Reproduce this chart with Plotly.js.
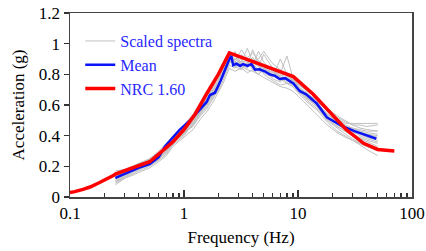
<!DOCTYPE html>
<html><head><meta charset="utf-8">
<script src="https://cdn.plot.ly/plotly-3.0.1.min.js"></script>
<style>html,body{margin:0;padding:0;background:#fff}#chart{width:426px;height:251px}</style>
</head><body><div id="chart"></div>
<script>
// NRC 1.60 target spectrum
const nrcFreq = [0.1,0.11,0.13,0.15,0.18,0.21,0.24,0.25,0.3,0.4,0.5,0.6,0.8,1.0,1.25,1.6,2.0,2.5,5,9.1,13.6,19,26.4,37.6,50,70];
const nrcAcc  = [0.03,0.035,0.05,0.065,0.093,0.115,0.14,0.15,0.17,0.20,0.23,0.28,0.36,0.44,0.54,0.68,0.80,0.94,0.86,0.785,0.67,0.55,0.44,0.35,0.31,0.30];

// Mean of scaled spectra
const meanFreq = [0.25,0.3,0.35,0.4,0.5,0.6,0.68,0.76,0.92,1.13,1.39,1.58,1.69,1.87,2.1,2.31,2.5,2.6,2.7,2.89,3.1,3.3,3.6,3.9,4.2,4.6,5.1,5.65,6.3,6.9,7.7,9.1,10.4,11.8,14.6,17.9,24.7,31.3,48.7];
const meanAcc  = [0.125,0.15,0.176,0.19,0.215,0.26,0.33,0.37,0.44,0.50,0.57,0.62,0.665,0.68,0.76,0.84,0.90,0.92,0.86,0.87,0.855,0.867,0.855,0.867,0.83,0.833,0.82,0.80,0.79,0.77,0.775,0.74,0.69,0.67,0.61,0.52,0.46,0.43,0.38];

// Individual scaled spectra
const specFreq = [0.25,0.3,0.35,0.4,0.5,0.6,0.7,0.8,1.0,1.2,1.4,1.6,1.8,2.0,2.2,2.5,2.8,3.2,3.6,4.0,4.5,5.0,6.0,7.0,8.0,9.0,10,12,15,18,22,26,30,35,40,50];
const spec01 = [0.08,0.12,0.16,0.18,0.21,0.25,0.30,0.36,0.42,0.47,0.55,0.60,0.66,0.72,0.79,0.90,0.88,0.93,0.87,0.91,0.86,0.84,0.80,0.78,0.78,0.75,0.70,0.65,0.58,0.50,0.45,0.41,0.38,0.35,0.33,0.30];
const spec02 = [0.15,0.17,0.19,0.21,0.24,0.28,0.33,0.39,0.45,0.52,0.59,0.64,0.69,0.76,0.84,0.93,0.85,0.83,0.88,0.84,0.80,0.83,0.77,0.75,0.79,0.76,0.72,0.68,0.62,0.56,0.51,0.48,0.48,0.48,0.48,0.48];
const spec03 = [0.12,0.14,0.18,0.20,0.23,0.27,0.29,0.35,0.41,0.50,0.56,0.61,0.70,0.75,0.78,0.88,0.95,0.86,0.84,0.90,0.86,0.80,0.76,0.73,0.74,0.72,0.69,0.63,0.57,0.51,0.46,0.43,0.41,0.39,0.37,0.35];
const spec04 = [0.09,0.12,0.15,0.17,0.20,0.24,0.31,0.38,0.44,0.48,0.58,0.63,0.66,0.70,0.81,0.92,0.89,0.96,0.90,0.86,0.95,0.88,0.82,0.80,0.76,0.73,0.71,0.67,0.61,0.54,0.49,0.46,0.44,0.42,0.41,0.40];
const spec05 = [0.17,0.18,0.20,0.22,0.25,0.29,0.32,0.37,0.43,0.49,0.55,0.63,0.68,0.74,0.82,0.89,0.86,0.85,0.83,0.82,0.80,0.84,0.81,0.79,0.80,0.77,0.73,0.70,0.64,0.57,0.52,0.49,0.47,0.47,0.46,0.47];
const spec06 = [0.11,0.14,0.17,0.19,0.22,0.26,0.30,0.38,0.44,0.50,0.56,0.62,0.67,0.74,0.80,0.91,0.87,0.88,0.97,0.88,0.85,0.93,0.84,0.78,0.75,0.72,0.68,0.62,0.56,0.49,0.43,0.40,0.37,0.34,0.31,0.27];
const spec07 = [0.13,0.16,0.18,0.20,0.21,0.25,0.29,0.35,0.42,0.46,0.54,0.59,0.64,0.71,0.79,0.87,0.90,0.87,0.85,0.87,0.83,0.81,0.78,0.90,0.80,0.76,0.70,0.66,0.60,0.53,0.48,0.45,0.43,0.40,0.38,0.36];
const spec08 = [0.14,0.16,0.19,0.22,0.24,0.27,0.33,0.39,0.45,0.53,0.60,0.65,0.71,0.77,0.83,0.95,0.88,0.84,0.87,0.85,0.88,0.86,0.82,0.76,0.77,0.74,0.71,0.64,0.59,0.54,0.50,0.47,0.45,0.43,0.42,0.41];
const spec09 = [0.10,0.13,0.16,0.18,0.22,0.25,0.30,0.36,0.41,0.47,0.53,0.58,0.65,0.69,0.76,0.86,0.84,0.89,0.86,0.96,0.87,0.82,0.79,0.77,0.74,0.74,0.69,0.64,0.61,0.52,0.47,0.44,0.42,0.41,0.39,0.37];
const spec10 = [0.16,0.17,0.18,0.21,0.23,0.26,0.32,0.37,0.42,0.51,0.57,0.61,0.68,0.73,0.80,0.90,0.85,0.88,0.89,0.83,0.84,0.85,0.80,0.81,0.92,0.78,0.72,0.67,0.63,0.56,0.50,0.46,0.45,0.44,0.43,0.43];
const spec11 = [0.12,0.15,0.17,0.19,0.22,0.24,0.28,0.34,0.40,0.48,0.56,0.62,0.66,0.72,0.78,0.89,0.92,0.87,0.86,0.86,0.82,0.83,0.79,0.76,0.78,0.75,0.70,0.65,0.58,0.51,0.46,0.43,0.40,0.38,0.36,0.33];
const spec12 = [0.14,0.15,0.17,0.20,0.23,0.28,0.34,0.38,0.45,0.51,0.58,0.64,0.70,0.75,0.82,0.92,0.87,0.90,0.91,0.94,0.89,0.86,0.80,0.79,0.81,0.74,0.71,0.66,0.60,0.55,0.49,0.46,0.44,0.42,0.41,0.39];
const spec13 = [0.11,0.13,0.17,0.21,0.25,0.30,0.35,0.40,0.47,0.54,0.61,0.67,0.72,0.79,0.85,0.93,0.90,0.92,0.89,0.88,0.90,0.95,0.87,0.83,0.80,0.77,0.74,0.69,0.64,0.58,0.53,0.50,0.47,0.45,0.44,0.43];
const spec14 = [0.10,0.12,0.14,0.16,0.19,0.23,0.27,0.33,0.39,0.44,0.51,0.56,0.62,0.68,0.74,0.84,0.82,0.84,0.81,0.83,0.80,0.78,0.75,0.72,0.71,0.69,0.66,0.60,0.53,0.47,0.42,0.39,0.37,0.35,0.33,0.31];
const spectra = [spec01,spec02,spec03,spec04,spec05,spec06,spec07,spec08,spec09,spec10,spec11,spec12,spec13,spec14];

const xTickVals = [0.1,1,10,100];
const xTickText = ['0.1','1','10','100'];

const traces = [];
spectra.forEach((s,i)=>{
  traces.push({x:specFreq,y:s,type:'scatter',mode:'lines',
    line:{color:'#c0c0c0',width:1},name:'Scaled spectra',
    showlegend:i===0,legendgroup:'spec',hoverinfo:'skip'});
});
traces.push({x:meanFreq,y:meanAcc,type:'scatter',mode:'lines',line:{color:'#0a14f5',width:2.5},name:'Mean'});
traces.push({x:nrcFreq,y:nrcAcc,type:'scatter',mode:'lines',line:{color:'#ff0000',width:3.5},name:'NRC 1.60'});

const fam = 'Times New Roman';
const layout = {
  width:426,height:251,
  margin:{l:70,r:14,t:13,b:54},
  paper_bgcolor:'#fff',plot_bgcolor:'#fff',
  font:{family:fam,size:17,color:'#000'},
  showlegend:true,
  legend:{x:0.03,y:0.94,xanchor:'left',yanchor:'top',bgcolor:'rgba(0,0,0,0)',
    font:{family:fam,size:16,color:'#2828ff'},tracegroupgap:0},
  xaxis:{type:'log',range:[-1,2],tickvals:xTickVals,ticktext:xTickText,
    ticks:'inside',ticklen:7,tickwidth:1.5,tickcolor:'#333',
    tickfont:{family:fam,size:17,color:'#000'},
    minor:{ticks:'inside',ticklen:4,tickcolor:'#333',dtick:'D1',showgrid:false},
    showline:true,linecolor:'#444',linewidth:1.5,mirror:true,
    showgrid:false,zeroline:false,
    title:{text:'Frequency (Hz)',font:{family:fam,size:17,color:'#000'},standoff:9}},
  yaxis:{range:[0,1.2],dtick:0.2,ticks:'outside',ticklen:5,tickwidth:1.5,tickcolor:'#333',
    tickfont:{family:fam,size:17,color:'#000'},
    showline:true,linecolor:'#444',linewidth:1.5,mirror:true,
    showgrid:false,zeroline:false,
    title:{text:'Acceleration (g)',font:{family:fam,size:17,color:'#000'},standoff:10}}
};
Plotly.newPlot('chart',traces,layout,{staticPlot:true,displayModeBar:false});
</script></body></html>
